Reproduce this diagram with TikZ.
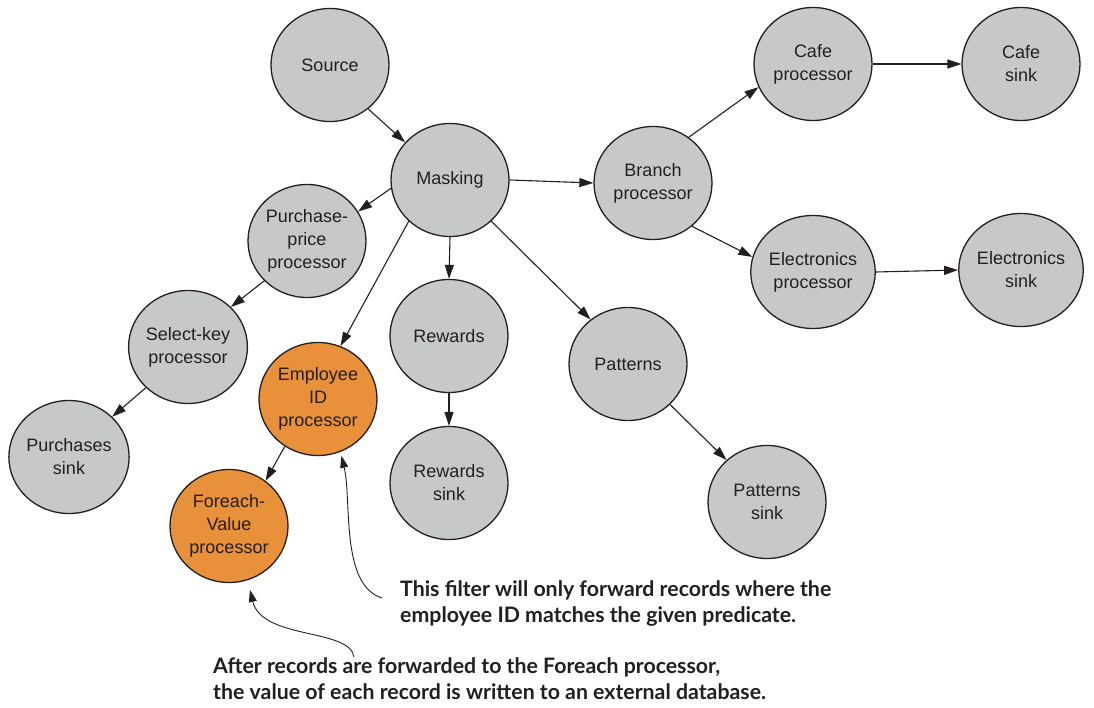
\documentclass[tikz,border=0pt]{standalone}
\usepackage{fontspec}
\setmainfont{Liberation Sans}
\newfontfamily\notefont{Lato}
\usetikzlibrary{shapes.geometric, arrows.meta}

\definecolor{nodegray}{HTML}{C7C8CA}
\definecolor{nodeorange}{HTML}{E8913A}
\definecolor{ink}{HTML}{231F20}

\tikzset{
  proc/.style={ellipse, draw=ink, line width=1.3pt, fill=nodegray,
    minimum width=118pt, minimum height=113pt, inner sep=0pt,
    align=center, text=ink, font=\fontsize{18}{23}\selectfont},
  hot/.style={proc, fill=nodeorange},
  flow/.style={draw=ink, line width=1.1pt, -{Triangle[length=14pt,width=9pt]}},
  callout/.style={draw=ink, line width=0.9pt, -{Triangle[length=12pt,width=8pt]}},
  note/.style={anchor=north west, inner sep=0pt, align=left, text=ink,
    font=\notefont\bfseries\fontsize{21.3}{26}\selectfont},
}

\begin{document}
\begin{tikzpicture}[x=1pt, y=-1pt]
\useasboundingbox (0,0) rectangle (1094,708);

% processors of the topology
\node[proc] (source)    at (330,65)  {Source};
\node[proc] (masking)   at (450,180) {Masking};
\node[proc] (branch)    at (653,183) {Branch\\processor};
\node[proc] (cafe)      at (813,64)  {Cafe\\processor};
\node[proc] (cafesink)  at (1021,64) {Cafe\\sink};
\node[proc] (elec)      at (813,272) {Electronics\\processor};
\node[proc] (elecsink)  at (1021,270) {Electronics\\sink};
\node[proc] (price)     at (307,241) {Purchase-\\price\\processor};
\node[proc] (selkey)    at (188,347) {Select-key\\processor};
\node[proc] (purchsink) at (69,457)  {Purchases\\sink};
\node[hot]  (empid)     at (318,399) {Employee\\ID\\processor};
\node[hot]  (foreach)   at (229,526) {Foreach-\\Value\\processor};
\node[proc] (rewards)   at (449,336) {Rewards};
\node[proc] (rewsink)   at (449,483) {Rewards\\sink};
\node[proc] (patterns)  at (628,364) {Patterns};
\node[proc] (patsink)   at (767,502) {Patterns\\sink};

% record flow
\draw[flow] (source.311) -- (masking.140);
\draw[flow] (masking.0) -- (branch.180);
\draw[flow] (branch.52) -- (cafe.203);
\draw[flow] (branch.312) -- (elec.166);
\draw[flow] (cafe.0) -- (cafesink.180);
\draw[flow] (elec.0) -- (elecsink.180);
\draw[flow] (masking.188) -- (price.30);
\draw[flow] (price.223) -- (selkey.43);
\draw[flow] (selkey.224) -- (purchsink.43);
\draw[flow] (masking.225) -- (empid.67);
\draw[flow] (empid.235) -- (foreach.51);
\draw[flow] (masking.270) -- (rewards.90);
\draw[flow] (rewards.270) -- (rewsink.90);
\draw[flow] (masking.315) -- (patterns.130);
\draw[flow] (patterns.316) -- (patsink.134);

% explanatory notes
\node[note] (filternote) at (400,580)
  {This filter will only forward records where the\\employee ID matches the given predicate.};
\node[note] (foreachnote) at (213,657)
  {After records are forwarded to the Foreach processor,\\the value of each record is written to an external database.};

\coordinate (filterfrom) at (382,598);
\coordinate (foreachfrom) at (354,657);
\draw[callout, shorten >=4pt] (filterfrom) .. controls (340,585) and (352,500) .. (empid.293);
\draw[callout, shorten >=10pt] (foreachfrom) .. controls (350,628) and (262,640) .. (foreach.289);
\end{tikzpicture}
\end{document}
